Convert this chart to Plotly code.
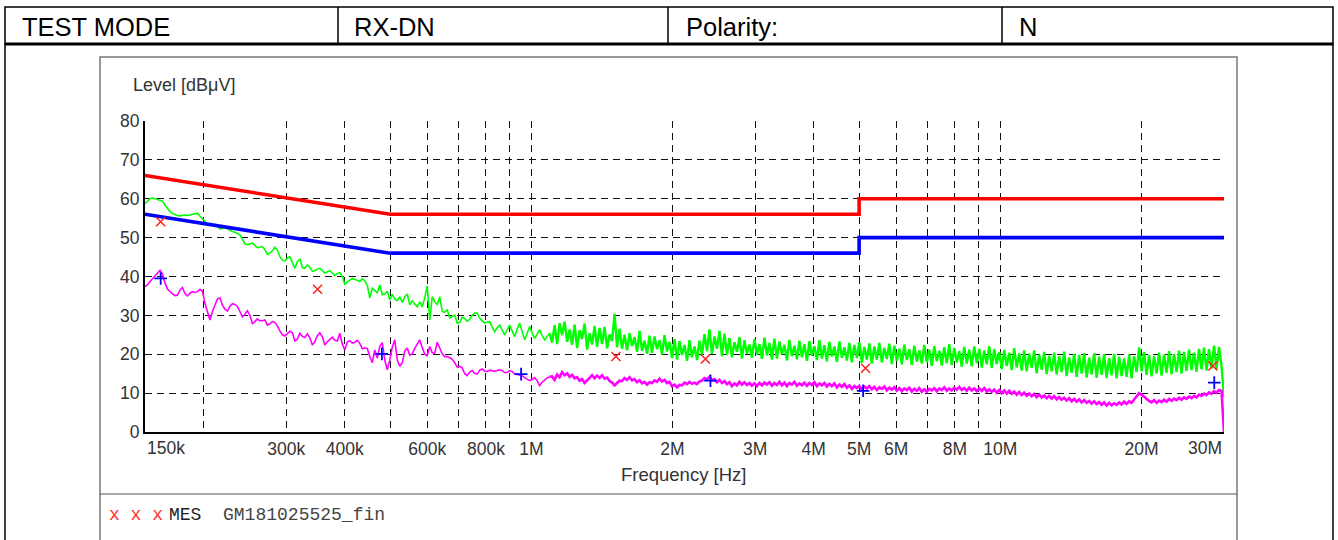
import numpy as np
import plotly.graph_objects as go

# ---------------- data ----------------
F_START_HZ = 150e3
F_STOP_HZ = 30e6

# Peak scan (green) on a log-spaced sweep grid
PEAK_LF_DBUV = [
    58.7, 59.3, 60.0, 60.2, 60.0, 59.8, 59.7, 59.4, 58.4, 57.5,
    56.7, 56.2, 55.9, 55.7, 55.6, 55.8, 55.8, 55.7, 55.9, 56.0,
    56.2, 56.3, 55.5, 54.8, 54.0, 53.5, 53.6, 53.2, 53.4, 53.0,
    52.2, 52.5, 52.6, 52.3, 51.9, 51.6, 51.4, 51.0, 50.7, 49.6,
    48.4, 48.2, 48.5, 48.6, 48.0, 47.4, 47.5, 47.7, 46.9, 45.7,
    46.0, 46.6, 47.5, 46.8, 45.1, 44.2, 44.0, 44.7, 45.1, 43.6,
    42.1, 43.8, 44.5, 42.3, 42.1, 43.0, 42.4, 41.4, 41.5, 41.9,
    42.1, 41.5, 40.9, 41.2, 41.5, 40.9, 40.2, 40.8, 41.0, 40.0,
    38.0, 38.6, 39.1, 39.5, 39.3, 38.9, 38.7, 39.4, 38.9, 37.7,
    34.5, 37.0, 36.5, 35.8, 37.8, 35.3, 35.5, 36.2, 34.0, 35.4,
    34.2, 33.8, 34.8, 33.3, 34.8, 35.5, 32.7, 33.8, 32.9, 32.2,
    33.5, 32.2, 34.5, 37.6, 28.8, 34.8, 33.5, 32.8, 34.8, 31.0,
    30.8, 31.5, 29.3, 29.8, 30.1, 28.0, 28.2, 29.5, 29.2, 28.5,
    29.0, 30.0, 30.6, 30.6, 29.3, 28.6, 28.0, 28.3, 28.4, 27.0,
    25.8, 26.8, 27.5, 26.2, 25.0, 26.3, 27.5, 26.0, 24.5, 26.5,
    28.0, 25.8, 23.7, 25.4, 27.1, 25.5, 24.1, 25.2, 26.3, 24.8,
    23.7, 24.6, 25.4,
]
PEAK_HF_DBUV = [
    23.0, 27.5, 22.6, 28.0, 24.9, 28.4, 23.2, 26.4, 22.4, 27.6,
    21.6, 26.2, 23.9, 27.9, 21.2, 25.4, 22.5, 27.3, 21.9, 26.8,
    22.6, 27.0, 21.5, 25.1, 23.4, 30.4, 21.8, 26.6, 21.4, 25.0,
    21.0, 25.4, 22.1, 24.4, 20.6, 26.0, 20.9, 23.5, 20.1, 24.8,
    20.4, 24.6, 21.3, 23.6, 19.9, 24.9, 20.7, 23.2, 19.0, 23.9,
    18.6, 23.4, 19.8, 22.4, 18.3, 23.6, 19.2, 22.0, 18.5, 23.5,
    19.9, 25.2, 20.8, 26.4, 20.1, 24.6, 21.4, 26.0, 19.5, 25.3,
    19.8, 24.2, 19.2, 23.1, 20.6, 24.4, 18.9, 23.6, 20.1, 22.5,
    19.1, 23.9, 19.9, 22.6, 18.8, 24.3, 19.7, 22.9, 18.6, 24.0,
    18.9, 23.3, 20.0, 22.4, 18.4, 23.7, 19.5, 22.2, 18.7, 23.5,
    19.2, 22.6, 18.3, 23.4, 19.6, 22.1, 18.5, 23.6, 18.9, 22.3,
    18.2, 23.2, 19.4, 22.0, 18.0, 23.3, 19.1, 21.8, 18.4, 22.9,
    17.9, 22.4, 19.0, 23.1, 17.8, 21.9, 18.6, 22.8, 17.6, 22.0,
    18.6, 22.9, 17.9, 21.6, 18.8, 22.7, 17.5, 22.2, 18.3, 21.4,
    17.4, 22.5, 18.5, 21.3, 17.2, 22.2, 18.1, 21.0, 17.6, 22.4,
    17.9, 21.2, 17.0, 22.1, 18.2, 20.9, 17.1, 21.8, 17.7, 22.6,
    17.2, 21.6, 17.9, 20.8, 16.8, 21.9, 17.6, 21.2, 16.9, 22.0,
    17.7, 21.4, 16.6, 21.0, 17.4, 22.1, 16.5, 21.3, 17.5, 20.6,
    16.2, 21.1, 17.0, 20.4, 15.9, 21.6, 16.6, 20.2, 15.8, 21.0,
    15.6, 20.2, 16.5, 21.0, 15.1, 19.9, 16.0, 20.6, 14.9, 19.6,
    15.6, 20.4, 14.8, 19.5, 15.4, 20.7, 14.4, 19.2, 15.2, 20.1,
    14.2, 19.8, 15.0, 20.3, 14.0, 19.1, 14.8, 20.2, 13.9, 19.4,
    14.7, 20.0, 13.9, 19.0, 14.6, 20.1, 13.8, 19.4, 14.4, 18.9,
    14.2, 19.9, 13.8, 19.5, 15.4, 21.8, 15.6, 20.6, 14.7, 19.8,
    14.3, 19.5, 15.0, 20.4, 14.5, 19.9, 15.2, 20.8, 14.8, 20.0,
    15.4, 20.9, 15.0, 20.6, 15.7, 21.2, 15.9, 20.4, 15.5, 21.4,
    16.1, 21.7, 15.8, 21.3, 16.4, 22.2, 16.2, 21.9, 17.0,
    9.0,
]

# Average scan (magenta)
AVG_LF_DBUV = [
    37.4, 37.9, 38.7, 39.4, 40.2, 41.0, 41.6, 40.6, 38.3, 36.8,
    36.1, 35.5, 35.1, 35.2, 36.5, 37.2, 35.6, 35.0, 35.7, 36.1,
    35.9, 36.1, 36.7, 36.2, 33.1, 30.9, 28.8, 31.0, 32.9, 34.2,
    34.5, 32.6, 31.6, 31.1, 32.3, 33.0, 32.8, 32.3, 31.0, 29.6,
    30.3, 31.2, 30.0, 27.9, 28.4, 29.1, 28.6, 28.6, 28.8, 27.5,
    27.8, 28.4, 28.2, 27.3, 26.0, 25.0, 24.7, 25.2, 25.9, 25.5,
    23.4, 23.9, 25.4, 24.6, 24.3, 25.2, 24.2, 22.4, 23.2, 24.8,
    25.5, 24.5, 22.4, 23.2, 23.9, 24.4, 23.6, 23.4, 25.4, 22.6,
    21.1, 23.2, 23.5, 22.9, 23.1, 23.6, 22.8, 21.4, 21.6, 21.5,
    19.4, 17.8, 21.1, 19.0, 22.0, 23.0, 18.5, 16.0, 18.5, 21.8,
    23.7, 18.5, 16.9, 17.8, 20.8, 21.6, 19.8, 20.1, 21.5, 22.6,
    23.7, 21.7, 20.0, 19.6, 22.0, 20.4, 20.3, 23.1, 21.6, 20.1,
    19.4, 19.4, 19.1, 18.7, 17.8, 16.7, 16.9, 16.5, 15.0, 14.5,
    15.4, 15.8, 15.1, 14.9, 15.9, 16.2, 15.7, 15.6, 15.9, 15.8,
    15.6, 15.8, 16.0, 15.8, 15.3, 15.3, 15.8, 15.6, 14.9, 14.8,
    14.6, 14.5, 14.0, 13.6, 13.2, 13.5, 14.0, 13.2, 11.9, 12.8,
    13.4, 13.9, 14.2,
]
AVG_HF_DBUV = [
    14.3, 13.4, 14.8, 14.1, 15.4, 14.6, 15.1, 14.2, 14.7, 13.8,
    14.1, 13.2, 13.6, 12.6, 13.4, 13.9, 14.6, 13.8, 14.5, 13.9,
    14.6, 13.7, 14.0, 13.1, 12.7, 12.0, 12.6, 13.2, 13.1, 13.9,
    13.4, 14.1, 13.3, 13.6, 12.8, 13.3, 12.5, 12.9, 12.2, 12.8,
    12.6, 13.3, 12.9, 13.7, 13.0, 13.4, 12.6, 12.9, 11.8, 12.2,
    11.5, 12.1, 12.0, 12.7, 12.3, 12.9, 12.4, 12.7, 12.3, 13.0,
    13.2, 13.9, 13.6, 14.2, 13.3, 13.6, 12.8, 13.4, 12.6, 13.1,
    12.3, 12.8, 11.8, 12.5, 12.0, 12.9, 12.2, 12.8, 12.1, 12.6,
    11.9, 12.5, 11.8, 12.6, 12.0, 12.7, 12.2, 12.8, 11.9, 12.6,
    12.1, 12.9, 12.0, 12.7, 11.8, 12.6, 12.2, 12.9, 11.9, 12.5,
    12.0, 12.7, 11.9, 12.6, 12.1, 12.8, 11.8, 12.5, 12.0, 12.6,
    11.7, 12.4, 11.8, 12.5, 11.5, 12.2, 11.6, 12.3, 11.4, 12.0,
    11.1, 11.8, 11.3, 11.9, 10.9, 11.7, 11.2, 11.8, 11.0, 11.6,
    10.8, 11.5, 11.1, 11.7, 10.7, 11.4, 10.9, 11.5, 10.6, 11.3,
    10.5, 11.2, 10.8, 11.4, 10.4, 11.1, 10.6, 11.3, 10.3, 11.0,
    10.4, 11.1, 10.7, 11.3, 10.5, 11.2, 10.8, 11.5, 10.6, 11.2,
    10.7, 11.4, 10.9, 11.6, 10.8, 11.3, 10.6, 11.4, 10.7, 11.2,
    10.5, 11.2, 10.6, 11.3, 10.4, 11.0, 10.3, 10.9, 10.1, 10.8,
    10.0, 10.7, 9.9, 10.6, 9.8, 10.4, 9.6, 10.3, 9.5, 10.1,
    9.3, 9.9, 9.2, 9.8, 9.0, 9.6, 8.9, 9.4, 8.7, 9.3,
    8.6, 9.2, 8.4, 9.0, 8.3, 8.8, 8.1, 8.7, 7.9, 8.5,
    7.8, 8.4, 7.6, 8.2, 7.5, 8.0, 7.3, 7.9, 7.2, 7.7,
    7.0, 7.6, 6.8, 7.5, 6.9, 7.4, 7.0, 7.6, 7.1, 7.8,
    7.2, 7.9, 7.5, 8.3, 9.2, 10.0, 9.6, 9.0, 8.5, 8.0,
    7.6, 8.2, 7.5, 8.1, 7.7, 8.3, 7.8, 8.5, 8.0, 8.6,
    8.2, 8.8, 8.3, 8.9, 8.5, 9.1, 8.7, 9.3, 8.9, 9.6,
    9.3, 9.9, 9.5, 10.2, 9.8, 10.5, 10.1, 10.8, 10.6,
    0.0,
]

# Limit lines
LIMIT_FREQ_HZ = [150e3, 500e3, 5e6, 5e6, 30e6]
QP_LIMIT_DBUV = [66, 56, 56, 60, 60]
AV_LIMIT_DBUV = [56, 46, 46, 50, 50]

# Final measurement points
QP_FREQ_HZ = [162e3, 350e3, 1.515e6, 2.35e6, 5.16e6, 28.4e6]
QP_DBUV = [54.1, 36.7, 19.4, 18.8, 16.4, 17.0]
AV_FREQ_HZ = [162e3, 480e3, 951e3, 2.41e6, 5.1e6, 28.6e6]
AV_DBUV = [39.5, 20.1, 14.9, 13.2, 10.6, 12.7]

# Axis ticks
X_TICK_HZ = [150e3, 300e3, 400e3, 600e3, 800e3, 1e6, 2e6, 3e6, 4e6, 5e6,
             6e6, 8e6, 10e6, 20e6, 30e6]
X_TICK_TEXT = ["150k", "300k", "400k", "600k", "800k", "1M", "2M", "3M", "4M",
               "5M", "6M", "8M", "10M", "20M", "30M"]
X_GRID_ONLY_HZ = [200e3, 500e3, 700e3, 900e3, 7e6, 9e6]
Y_TICKS = [0, 10, 20, 30, 40, 50, 60, 70, 80]

HEADER = ["TEST MODE", "RX-DN", "Polarity:", "N"]

# ---------------- figure ----------------
peak_db = PEAK_LF_DBUV + PEAK_HF_DBUV
avg_db = AVG_LF_DBUV + AVG_HF_DBUV
peak_f = np.geomspace(F_START_HZ, F_STOP_HZ, len(peak_db))
avg_f = np.geomspace(F_START_HZ, F_STOP_HZ, len(avg_db))
n_pk = len(PEAK_LF_DBUV)
n_av = len(AVG_LF_DBUV)

W, H = 1338, 540
PL, PR, PT, PB = 145, 1224, 121, 432   # plot area in pixels

SANS = "Liberation Sans, Arial"
MONO = "Liberation Mono, Courier New"


def px(X):
    return (X - PL) / (PR - PL)


def py(Y):
    return (PB - Y) / (PB - PT)


fig = go.Figure()
# green peak trace: thin where it is a clean line, heavier where it is a dense noise band
fig.add_trace(go.Scatter(x=peak_f[:n_pk], y=peak_db[:n_pk], mode="lines",
                         line=dict(color="#00ff00", width=1.6), hoverinfo="skip"))
fig.add_trace(go.Scatter(x=peak_f[n_pk - 1:], y=peak_db[n_pk - 1:], mode="lines",
                         line=dict(color="#00ff00", width=2.4), hoverinfo="skip"))
fig.add_trace(go.Scatter(x=avg_f[:n_av], y=avg_db[:n_av], mode="lines",
                         line=dict(color="#ff00ff", width=1.6), hoverinfo="skip"))
fig.add_trace(go.Scatter(x=avg_f[n_av - 1:], y=avg_db[n_av - 1:], mode="lines",
                         line=dict(color="#ff00ff", width=2.6), hoverinfo="skip"))
fig.add_trace(go.Scatter(x=LIMIT_FREQ_HZ, y=QP_LIMIT_DBUV, mode="lines",
                         line=dict(color="#ff0000", width=3.6)))
fig.add_trace(go.Scatter(x=LIMIT_FREQ_HZ, y=AV_LIMIT_DBUV, mode="lines",
                         line=dict(color="#0000ff", width=3.6)))
fig.add_trace(go.Scatter(x=QP_FREQ_HZ, y=QP_DBUV, mode="markers",
                         marker=dict(symbol="x-thin-open", size=9, color="#ff2020",
                                     line=dict(color="#ff2020", width=1.5))))
fig.add_trace(go.Scatter(x=AV_FREQ_HZ, y=AV_DBUV, mode="markers",
                         marker=dict(symbol="cross-thin-open", size=9, color="#0000ff",
                                     line=dict(color="#0000ff", width=1.8))))

GRID_DASH = "7px,5px"
fig.update_xaxes(
    type="log",
    range=[np.log10(F_START_HZ), np.log10(F_STOP_HZ)],
    tickmode="array", tickvals=X_TICK_HZ,
    ticktext=[""] + X_TICK_TEXT[1:-1] + [""],
    showgrid=True, gridcolor="#111", gridwidth=1, griddash=GRID_DASH,
    minor=dict(tickmode="array", tickvals=X_GRID_ONLY_HZ, showgrid=True,
               gridcolor="#111", gridwidth=1, griddash=GRID_DASH, ticks=""),
    showline=True, linecolor="black", linewidth=2, mirror=False,
    zeroline=False, ticks="",
    tickfont=dict(family=SANS, size=17.5, color="#333"),
)
fig.update_yaxes(
    range=[0, 80], tickmode="array", tickvals=Y_TICKS,
    showgrid=True, gridcolor="#111", gridwidth=1, griddash=GRID_DASH,
    showline=True, linecolor="black", linewidth=2, mirror=False,
    zeroline=False, ticks="",
    tickfont=dict(family=SANS, size=17.5, color="#333"),
)

shapes = []
# header table
shapes.append(dict(type="rect", xref="paper", yref="paper",
                   x0=px(5), x1=px(1333), y0=py(44), y1=py(7),
                   line=dict(color="black", width=1.5)))
shapes.append(dict(type="line", xref="paper", yref="paper",
                   x0=px(5), x1=px(1333), y0=py(44), y1=py(44),
                   line=dict(color="black", width=3)))
for X in (338, 668, 1002):
    shapes.append(dict(type="line", xref="paper", yref="paper",
                       x0=px(X), x1=px(X), y0=py(44), y1=py(7),
                       line=dict(color="black", width=1.5)))
# outer side borders going down
for X in (5, 1333):
    shapes.append(dict(type="line", xref="paper", yref="paper",
                       x0=px(X), x1=px(X), y0=py(545), y1=py(44),
                       line=dict(color="black", width=1.5)))
# chart frame
shapes.append(dict(type="rect", xref="paper", yref="paper",
                   x0=px(100), x1=px(1237), y0=py(560), y1=py(57),
                   line=dict(color="#777", width=1.5), layer="below"))
shapes.append(dict(type="line", xref="paper", yref="paper",
                   x0=px(100), x1=px(1237), y0=py(494), y1=py(494),
                   line=dict(color="#555", width=1.2)))

annotations = []
for X, txt in zip((20, 352, 684, 1017), HEADER):
    annotations.append(dict(xref="paper", yref="paper", x=px(X), y=py(26.5),
                            text=txt, showarrow=False, xanchor="left",
                            yanchor="middle",
                            font=dict(family=SANS, size=25.5, color="black")))
annotations.append(dict(xref="paper", yref="paper", x=px(131), y=py(85),
                        text="Level [dBμV]", showarrow=False, xanchor="left",
                        yanchor="middle",
                        font=dict(family=SANS, size=18, color="#333")))
annotations.append(dict(xref="paper", yref="paper", x=px(683), y=py(474),
                        text="Frequency [Hz]", showarrow=False, xanchor="center",
                        yanchor="middle",
                        font=dict(family=SANS, size=18.5, color="#333")))
annotations.append(dict(xref="x", yref="paper", x=np.log10(X_TICK_HZ[0]),
                        y=py(447.5), text=X_TICK_TEXT[0], showarrow=False,
                        xanchor="left", yanchor="middle",
                        font=dict(family=SANS, size=17.5, color="#333")))
annotations.append(dict(xref="x", yref="paper", x=np.log10(X_TICK_HZ[-1]),
                        y=py(447.5), text=X_TICK_TEXT[-1], showarrow=False,
                        xanchor="right", yanchor="middle",
                        font=dict(family=SANS, size=17.5, color="#333")))
annotations.append(dict(xref="paper", yref="paper", x=px(107), y=py(515),
                        text="x x x", showarrow=False, xanchor="left",
                        yanchor="middle",
                        font=dict(family=MONO, size=18, color="#ff3030")))
annotations.append(dict(xref="paper", yref="paper", x=px(167), y=py(515),
                        text="MES  <span style='color:#444'>GM181025525_fin</span>",
                        showarrow=False, xanchor="left", yanchor="middle",
                        font=dict(family=MONO, size=18, color="#222")))

fig.update_layout(
    width=W, height=H, autosize=False,
    margin=dict(l=PL, r=W - PR, t=PT, b=H - PB, pad=0),
    paper_bgcolor="white", plot_bgcolor="white",
    showlegend=False,
    shapes=shapes, annotations=annotations,
)

fig.write_html("out.html",
               config={"displayModeBar": False},
               post_script="document.body.style.margin='0';document.body.style.overflow='hidden';")
